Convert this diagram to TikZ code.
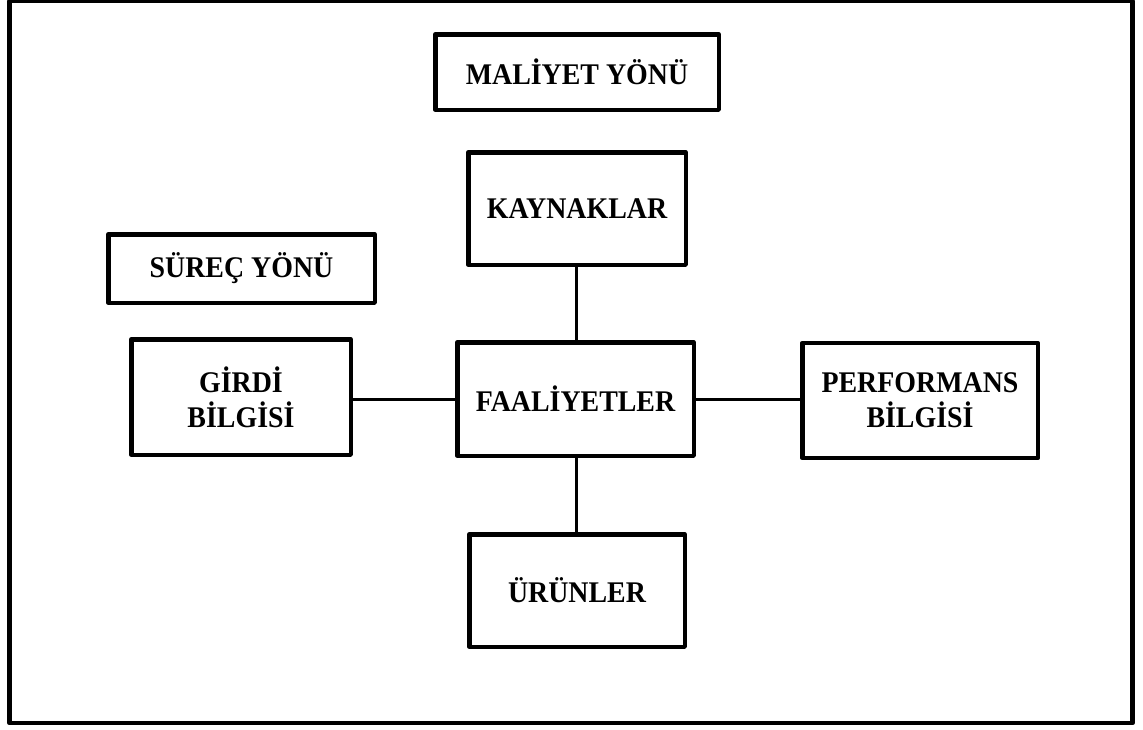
\documentclass[tikz,border=0pt]{standalone}
\usepackage{fontspec}
\setmainfont{Liberation Serif}
\newfontfamily\labelfont{Liberation Serif}[FakeStretch=0.93]
\begin{document}
\begin{tikzpicture}[x=1pt,y=-1pt,
  box/.style={draw=black, line width=4.5pt, line join=round, rectangle,
    inner sep=0pt, align=center, font=\labelfont\fontsize{30}{35}\selectfont\bfseries},
  link/.style={draw=black, line width=3pt}]
  \useasboundingbox (0,0) rectangle (1143,729);
  % outer frame
  \draw[line width=4.5pt, line join=round] (9.5,1) rectangle (1132.5,723);

  % boxes
  \node[box, minimum width=283.5pt, minimum height=75.5pt]  (maliyet) at (577,72)    {MALİYET YÖNÜ};
  \node[box, minimum width=217.5pt, minimum height=112.5pt] (kaynak)  at (577,208.5) {KAYNAKLAR};
  \node[box, minimum width=266.5pt, minimum height=68.5pt]  (surec)   at (241.5,268.5) {SÜREÇ YÖNÜ};
  \node[box, minimum width=219.5pt, minimum height=115.5pt] (girdi)   at (241,397)   {GİRDİ\\BİLGİSİ};
  \node[box, minimum width=236.5pt, minimum height=113.5pt] (faal)    at (575.5,399) {FAALİYETLER};
  \node[box, minimum width=235.5pt, minimum height=115pt]   (perf)    at (920,400.5) {PERFORMANS\\BİLGİSİ};
  \node[box, minimum width=215.5pt, minimum height=112.5pt] (urun)    at (577,590.5) {ÜRÜNLER};

  % connectors
  \draw[link] (kaynak.south -| 576,0) -- (faal.north -| 576,0);
  \draw[link] (faal.south -| 576,0) -- (urun.north -| 576,0);
  \draw[link] (girdi.east |- 0,399) -- (faal.west);
  \draw[link] (faal.east) -- (perf.west |- 0,399);
\end{tikzpicture}
\end{document}
